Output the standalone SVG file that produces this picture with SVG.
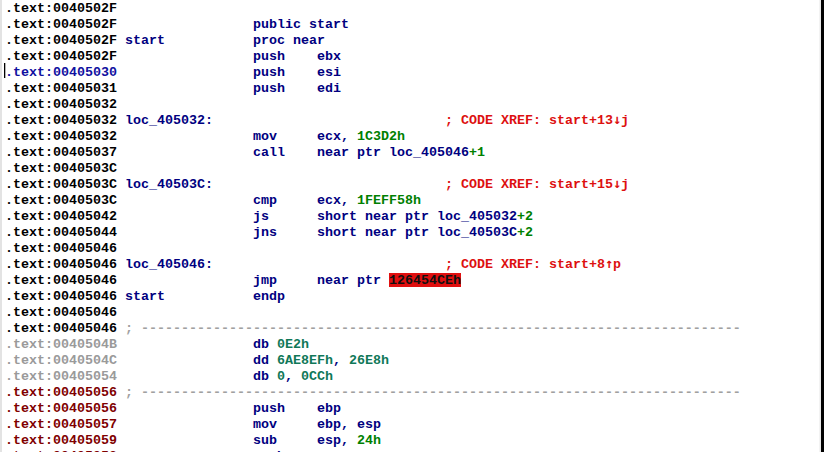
<svg xmlns="http://www.w3.org/2000/svg" width="824" height="452" viewBox="0 0 824 452">
<style>
text{font-family:"Liberation Mono","DejaVu Sans Mono",monospace;font-size:13.333px;font-weight:bold;white-space:pre}
.a{fill:#000000}
.ab{fill:#1010a0}
.ag{fill:#9a9a9a}
.ar{fill:#800000}
.n{fill:#000080}
.g{fill:#008000}
.gt{fill:#107858}
.c{fill:#dd1010}
.d{fill:#a0a0a0}
.hl{fill:#101010}
</style>
<rect x="0" y="0" width="824" height="452" fill="#ffffff"/>
<rect x="0.5" y="0" width="1" height="452" fill="#c8c8c8"/>
<rect x="821" y="0" width="3" height="452" fill="#000000"/>
<rect x="819.5" y="0" width="1.5" height="452" fill="#e8e8e8"/>
<rect x="4" y="63" width="1.3" height="15" fill="#000000"/>
<rect x="389" y="273" width="72" height="14" fill="#e01010"/>

<g transform="translate(0,-1)">
<g id="addresses">
<text class="a" x="5" y="13">.text:0040502F</text>
<text class="a" x="5" y="29">.text:0040502F</text>
<text class="a" x="5" y="45">.text:0040502F</text>
<text class="a" x="5" y="61">.text:0040502F</text>
<text class="ab" x="5" y="77">.text:00405030</text>
<text class="a" x="5" y="93">.text:00405031</text>
<text class="a" x="5" y="109">.text:00405032</text>
<text class="a" x="5" y="125">.text:00405032</text>
<text class="a" x="5" y="141">.text:00405032</text>
<text class="a" x="5" y="157">.text:00405037</text>
<text class="a" x="5" y="173">.text:0040503C</text>
<text class="a" x="5" y="189">.text:0040503C</text>
<text class="a" x="5" y="205">.text:0040503C</text>
<text class="a" x="5" y="221">.text:00405042</text>
<text class="a" x="5" y="237">.text:00405044</text>
<text class="a" x="5" y="253">.text:00405046</text>
<text class="a" x="5" y="269">.text:00405046</text>
<text class="a" x="5" y="285">.text:00405046</text>
<text class="a" x="5" y="301">.text:00405046</text>
<text class="a" x="5" y="317">.text:00405046</text>
<text class="a" x="5" y="333">.text:00405046</text>
<text class="ag" x="5" y="349">.text:0040504B</text>
<text class="ag" x="5" y="365">.text:0040504C</text>
<text class="ag" x="5" y="381">.text:00405054</text>
<text class="ar" x="5" y="397">.text:00405056</text>
<text class="ar" x="5" y="413">.text:00405056</text>
<text class="ar" x="5" y="429">.text:00405057</text>
<text class="ar" x="5" y="445">.text:00405059</text>
<text class="ar" x="5" y="461">.text:0040505C</text>
</g>

<g id="labels">
<text class="n" x="125" y="45">start</text>
<text class="n" x="125" y="125">loc_405032:</text>
<text class="n" x="125" y="189">loc_40503C:</text>
<text class="n" x="125" y="269">loc_405046:</text>
<text class="n" x="125" y="301">start</text>
<text class="d" x="125" y="333">; ---------------------------------------------------------------------------</text>
<text class="d" x="125" y="397">; ---------------------------------------------------------------------------</text>
</g>

<g id="mnemonics">
<text class="n" x="253" y="29">public start</text>
<text class="n" x="253" y="45">proc near</text>
<text class="n" x="253" y="61">push</text>
<text class="n" x="253" y="77">push</text>
<text class="n" x="253" y="93">push</text>
<text class="n" x="253" y="141">mov</text>
<text class="n" x="253" y="157">call</text>
<text class="n" x="253" y="205">cmp</text>
<text class="n" x="253" y="221">js</text>
<text class="n" x="253" y="237">jns</text>
<text class="n" x="253" y="285">jmp</text>
<text class="n" x="253" y="301">endp</text>
<text class="n" x="253" y="349">db <tspan class="gt">0E2h</tspan></text>
<text class="n" x="253" y="365">dd <tspan class="gt">6AE8EFh</tspan>, <tspan class="gt">26E8h</tspan></text>
<text class="n" x="253" y="381">db <tspan class="gt">0</tspan>, <tspan class="gt">0CCh</tspan></text>
<text class="n" x="253" y="413">push</text>
<text class="n" x="253" y="429">mov</text>
<text class="n" x="253" y="445">sub</text>
<text class="n" x="253" y="461">push</text>
</g>

<g id="operands">
<text class="n" x="317" y="61">ebx</text>
<text class="n" x="317" y="77">esi</text>
<text class="n" x="317" y="93">edi</text>
<text class="n" x="317" y="141">ecx, <tspan class="g">1C3D2h</tspan></text>
<text class="n" x="317" y="157">near ptr loc_405046<tspan class="g">+1</tspan></text>
<text class="n" x="317" y="205">ecx, <tspan class="g">1FEFF58h</tspan></text>
<text class="n" x="317" y="221">short near ptr loc_405032<tspan class="g">+2</tspan></text>
<text class="n" x="317" y="237">short near ptr loc_40503C<tspan class="g">+2</tspan></text>
<text class="n" x="317" y="285">near ptr <tspan class="hl">126454CEh</tspan></text>
<text class="n" x="317" y="413">ebp</text>
<text class="n" x="317" y="429">ebp, esp</text>
<text class="n" x="317" y="445">esp, <tspan class="g">24h</tspan></text>
</g>

<g id="comments">
<text class="c" x="445" y="125">; CODE XREF: start+13<tspan font-family="DejaVu Sans Mono">↓</tspan>j</text>
<text class="c" x="445" y="189">; CODE XREF: start+15<tspan font-family="DejaVu Sans Mono">↓</tspan>j</text>
<text class="c" x="445" y="269">; CODE XREF: start+8<tspan font-family="DejaVu Sans Mono">↑</tspan>p</text>
</g>
</g>
</svg>
